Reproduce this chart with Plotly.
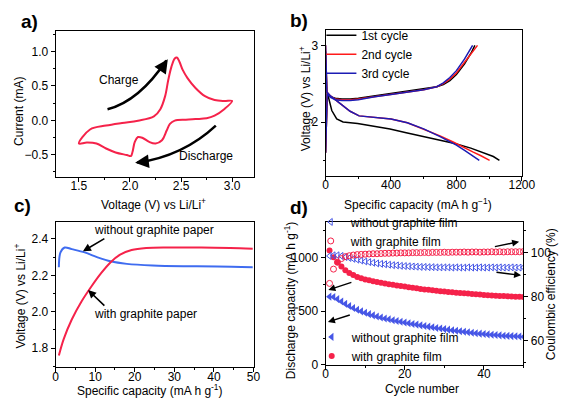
import plotly.graph_objects as go

# ---- a) cyclic voltammogram ----
cv_voltage = [1.500, 1.609, 1.766, 1.922, 2.078, 2.234, 2.297, 2.344, 2.375, 2.406, 2.438, 2.459,
              2.484, 2.516, 2.563, 2.641, 2.734, 2.828, 2.922, 3.000,
              2.922, 2.828, 2.750, 2.641, 2.547, 2.438, 2.391, 2.359, 2.313, 2.250, 2.188,
              2.125, 2.078, 2.047, 2.025, 2.009, 1.969, 1.859, 1.766, 1.672, 1.578, 1.500]
cv_current = [-0.338, -0.133, -0.076, -0.038, -0.005, 0.057, 0.162, 0.352, 0.590, 0.781, 0.900, 0.914,
              0.852, 0.733, 0.614, 0.471, 0.352, 0.295, 0.281, 0.281,
              0.162, 0.067, 0.029, 0.019, 0.010, -0.005, -0.052, -0.148, -0.290, -0.338, -0.314,
              -0.257, -0.243, -0.314, -0.457, -0.519, -0.505, -0.467, -0.410, -0.338, -0.324, -0.338]

# ---- b) charge / discharge profiles ----
c1_dis_cap = [0, 8, 18, 38, 68, 107, 196, 295, 394, 493, 592, 691, 790, 888, 967, 1026, 1063]
c1_dis_v = [2.92, 2.39, 2.32, 2.15, 2.04, 2.00, 1.98, 1.95, 1.91, 1.86, 1.81, 1.77, 1.72, 1.66, 1.60, 1.55, 1.50]
c1_chg_cap = [0, 5, 10, 30, 60, 100, 150, 200, 300, 400, 500, 600, 680, 720, 760, 800, 850, 890, 913]
c1_chg_v = [1.60, 2.20, 2.37, 2.33, 2.31, 2.30, 2.30, 2.31, 2.34, 2.37, 2.40, 2.43, 2.46, 2.49, 2.54, 2.62, 2.76, 2.90, 3.00]

c2_dis_cap = [0, 8, 30, 60, 100, 150, 205, 300, 400, 500, 600, 700, 780, 850, 900, 950, 1003]
c2_dis_v = [3.00, 2.39, 2.34, 2.29, 2.22, 2.14, 2.08, 2.065, 2.04, 1.99, 1.91, 1.82, 1.74, 1.66, 1.61, 1.56, 1.50]
c2_chg_cap = [0, 5, 10, 30, 60, 100, 150, 200, 300, 400, 500, 600, 680, 720, 760, 800, 850, 900, 929]
c2_chg_v = [1.60, 2.20, 2.37, 2.33, 2.30, 2.29, 2.29, 2.30, 2.33, 2.36, 2.39, 2.42, 2.46, 2.50, 2.56, 2.64, 2.78, 2.92, 3.00]

c3_dis_cap = [0, 8, 30, 60, 100, 150, 205, 300, 400, 500, 600, 700, 760, 800, 850, 900, 940]
c3_dis_v = [3.00, 2.39, 2.34, 2.29, 2.22, 2.14, 2.08, 2.065, 2.04, 1.99, 1.91, 1.81, 1.75, 1.70, 1.63, 1.56, 1.50]
c3_chg_cap = [0, 5, 10, 30, 60, 100, 150, 200, 300, 400, 500, 600, 680, 720, 760, 800, 849, 880, 899]
c3_chg_v = [1.60, 2.20, 2.37, 2.32, 2.29, 2.28, 2.28, 2.29, 2.33, 2.36, 2.39, 2.42, 2.46, 2.51, 2.58, 2.67, 2.82, 2.93, 3.00]

# ---- c) initial charge voltage ----
wo_paper_cap = [0.82, 1.23, 2.29, 4.08, 7.35, 10.6, 13.9, 18.0, 24.5, 32.7, 40.8, 49.8]
wo_paper_v = [2.245, 2.326, 2.353, 2.344, 2.326, 2.299, 2.277, 2.263, 2.254, 2.250, 2.249, 2.245]
w_paper_cap = [0.82, 2.04, 4.08, 6.54, 8.99, 11.4, 13.9, 16.3, 19.2, 22.9, 28.6, 36.8, 44.1, 49.8]
w_paper_v = [1.759, 1.849, 1.957, 2.056, 2.137, 2.209, 2.272, 2.314, 2.339, 2.350, 2.353, 2.353, 2.350, 2.346]

# ---- d) cycling ----
cycles = list(range(1, 51))
cap_wo_film = [635, 632, 612, 590, 568, 548, 530, 513, 498, 485,
               472, 461, 451, 441, 432, 424, 416, 408, 401, 395,
               388, 381, 375, 368, 362, 356, 350, 344, 338, 333,
               328, 323, 318, 313, 308, 304, 299, 295, 291, 287,
               284, 281, 278, 275, 272, 270, 268, 266, 264, 262]
cap_w_film = [1065, 1000, 955, 915, 880, 855, 835, 818, 805, 795,
              787, 779, 771, 764, 757, 751, 745, 739, 734, 729,
              722, 717, 712, 707, 702, 698, 694, 690, 686, 682,
              678, 675, 672, 669, 666, 663, 660, 657, 654, 651,
              648, 646, 644, 642, 640, 638, 636, 635, 633, 632]
ce_wo_film = [98.5, 98.8, 98.8, 98.5, 98.0, 97.6, 97.2, 96.8, 96.4, 96.0,
              95.7, 95.4, 95.1, 94.9, 94.7, 94.5, 94.3, 94.2, 94.0, 93.9,
              93.8, 93.7, 93.6, 93.5, 93.5, 93.4, 93.4, 93.3, 93.3, 93.3,
              93.3, 93.2, 93.3, 93.2, 93.2, 93.3, 93.2, 93.2, 93.3, 93.2,
              93.2, 93.3, 93.2, 93.3, 93.2, 93.2, 93.3, 93.2, 93.2, 93.3]
ce_w_film = [86.0, 92.5, 95.6, 97.3, 98.2, 98.6, 98.9, 99.1, 99.2, 99.3,
             99.4, 99.5, 99.5, 99.6, 99.7, 99.7, 99.8, 99.8, 99.9, 99.9,
             99.9, 100.0, 100.0, 100.0, 100.1, 100.0, 100.1, 100.1, 100.1, 100.2,
             100.1, 100.2, 100.2, 100.2, 100.3, 100.2, 100.3, 100.3, 100.2, 100.3,
             100.3, 100.4, 100.3, 100.4, 100.3, 100.4, 100.4, 100.4, 100.4, 100.5]

FONT = "Liberation Sans, Arial, sans-serif"
RED = "#F5224A"
BLUE_C = "#3F6CF0"
BLUE_D = "#4656E6"

W, H = 567, 399


def px(x):
    return x / W


def py(y):
    return 1 - y / H


def axis(dom, **kw):
    d = dict(domain=dom, showline=True, linecolor="black", linewidth=1, mirror=True,
             ticks="outside", ticklen=4, tickwidth=1, tickcolor="black",
             showgrid=False, zeroline=False, ticklabeloverflow="allow",
             tickfont=dict(size=12, color="black", family=FONT))
    d.update(kw)
    return d


def xaxis(dom, **kw):
    return axis(dom, ticklabelposition="outside", ticklabelstandoff=-6, **kw)


fig = go.Figure()

# a)
fig.add_trace(go.Scatter(x=cv_voltage, y=cv_current, mode="lines", line=dict(color=RED, width=2),
                         line_shape="spline", showlegend=False, xaxis="x", yaxis="y"))

# b)
for cap, v, col, name, show in [
    (c1_dis_cap, c1_dis_v, "black", "1st cycle", True),
    (c1_chg_cap, c1_chg_v, "black", "1st cycle", False),
    (c2_dis_cap, c2_dis_v, "#FF1A1A", "2nd cycle", True),
    (c2_chg_cap, c2_chg_v, "#FF1A1A", "2nd cycle", False),
    (c3_dis_cap, c3_dis_v, "#1C1CB4", "3rd cycle", True),
    (c3_chg_cap, c3_chg_v, "#1C1CB4", "3rd cycle", False),
]:
    fig.add_trace(go.Scatter(x=cap, y=v, mode="lines", line=dict(color=col, width=1.5),
                             name=name, showlegend=show, legend="legend",
                             xaxis="x2", yaxis="y2"))

# c)
fig.add_trace(go.Scatter(x=wo_paper_cap, y=wo_paper_v, mode="lines", line=dict(color=BLUE_C, width=2),
                         line_shape="spline", showlegend=False, xaxis="x3", yaxis="y3"))
fig.add_trace(go.Scatter(x=w_paper_cap, y=w_paper_v, mode="lines", line=dict(color=RED, width=2),
                         line_shape="spline", showlegend=False, xaxis="x3", yaxis="y3"))

# d)
fig.add_trace(go.Scatter(x=cycles, y=ce_wo_film, mode="markers", name="without graphite film",
                         marker=dict(symbol="triangle-left-open", size=6, color=BLUE_D, line=dict(width=1)),
                         legend="legend2", xaxis="x4", yaxis="y5"))
fig.add_trace(go.Scatter(x=cycles, y=ce_w_film, mode="markers", name="with graphite film",
                         marker=dict(symbol="circle-open", size=6, color=RED, line=dict(width=1)),
                         legend="legend2", xaxis="x4", yaxis="y5"))
fig.add_trace(go.Scatter(x=cycles, y=cap_wo_film, mode="markers", name="without graphite film",
                         marker=dict(symbol="triangle-left", size=7, color=BLUE_D),
                         legend="legend3", xaxis="x4", yaxis="y4"))
fig.add_trace(go.Scatter(x=cycles, y=cap_w_film, mode="markers", name="with graphite film",
                         marker=dict(symbol="circle", size=6, color=RED),
                         legend="legend3", xaxis="x4", yaxis="y4"))

ann = []


def label(text, x, y, size=12, angle=0, bold=False, xanchor="center", yanchor="middle"):
    ann.append(dict(text=f"<b>{text}</b>" if bold else text, x=px(x), y=py(y),
                    xref="paper", yref="paper", showarrow=False, textangle=angle,
                    xanchor=xanchor, yanchor=yanchor,
                    font=dict(size=size, color="black", family=FONT)))


# panel letters
label("a)", 8, 1, size=19, bold=True, xanchor="left", yanchor="top")
label("b)", 286, 0, size=19, bold=True, xanchor="left", yanchor="top")
label("c)", 1, 188, size=19, bold=True, xanchor="left", yanchor="top")
label("d)", 286, 190, size=19, bold=True, xanchor="left", yanchor="top")

# axis titles
label("Voltage (V) vs Li/Li<sup>+</sup>", 147, 199)
label("Current (mA)", 8, 105, angle=-90)
label("Specific capacity (mA h g<sup>\u22121</sup>)", 420, 199)
label("Voltage (V) vs Li/Li<sup>+</sup>", 303, 92, angle=-90)
label("Specific capacity (mA h g<sup>-1</sup>)", 143, 399, yanchor="bottom")
label("Voltage (V) vs Li/Li<sup>+</sup>", 9, 293, angle=-90)
label("Cycle number", 424, 388)
label("Discharge capacity (mA h g<sup>-1</sup>)", 287, 297, angle=-90)
label("Coulombic efficiency (%)", 557, 291, angle=-90)

# a) in-plot text and curved arrows
ann.append(dict(text="Charge", x=1.89, y=0.59, xref="x", yref="y", showarrow=False,
                font=dict(size=12, color="black", family=FONT)))
ann.append(dict(text="Discharge", x=2.74, y=-0.52, xref="x", yref="y", showarrow=False,
                font=dict(size=12, color="black", family=FONT)))
ann.append(dict(x=2.37, y=0.89, xref="x", yref="y", ax=-6, ay=9, text="", showarrow=True,
                arrowhead=2, arrowsize=1.1, arrowwidth=2.5, arrowcolor="black"))
ann.append(dict(x=2.05, y=-0.617, xref="x", yref="y", ax=9, ay=-1, text="", showarrow=True,
                arrowhead=2, arrowsize=1.1, arrowwidth=2.5, arrowcolor="black"))

# c) arrows
for tx, ty, hx, hy, txt, lx, ly in [
    (12.7, 2.407, 6.9, 2.332, "without graphite paper", 24.8, 2.447),
    (12.7, 2.025, 8.2, 2.119, "with graphite paper", 22.6, 1.987),
]:
    ann.append(dict(x=hx, y=hy, ax=tx, ay=ty, xref="x3", yref="y3", axref="x3", ayref="y3",
                    text="", showarrow=True, arrowhead=2, arrowsize=1, arrowwidth=1.6, arrowcolor="black"))
    ann.append(dict(text=txt, x=lx, y=ly, xref="x3", yref="y3", showarrow=False,
                    font=dict(size=12, color="black", family=FONT)))

# d) arrows (left capacity axis coords)
for tx, ty, hx, hy in [(42.4, 1097, 48.9, 1146), (42.8, 863, 49.4, 833),
                       (6.9, 772, 0.7, 697), (6.5, 469, 0.6, 399)]:
    ann.append(dict(x=hx, y=hy, ax=tx, ay=ty, xref="x4", yref="y4", axref="x4", ayref="y4",
                    text="", showarrow=True, arrowhead=2, arrowsize=1, arrowwidth=1.4, arrowcolor="black"))

shapes = [
    dict(type="path", xref="x", yref="y", path="M 1.78,0.16 Q 2.09,0.28 2.355,0.87",
         line=dict(color="black", width=2.5)),
    dict(type="path", xref="x", yref="y", path="M 2.84,-0.076 Q 2.52,-0.52 2.07,-0.615",
         line=dict(color="black", width=2.5)),
]

leg_font = dict(size=12, color="black", family=FONT)

fig.update_layout(
    width=W, height=H, margin=dict(l=0, r=0, t=0, b=0),
    paper_bgcolor="white", plot_bgcolor="white",
    font=dict(family=FONT, size=12, color="black"),
    xaxis=xaxis([px(46), px(250)], anchor="y", range=[1.272, 3.209], tickvals=[1.5, 2.0, 2.5, 3.0],
                tickformat=".1f", minor=dict(dtick=0.25, ticks="outside", ticklen=2, tickcolor="black")),
    yaxis=axis([py(172), py(23)], anchor="x", range=[-0.824, 1.305], tickvals=[-0.5, 0.0, 0.5, 1.0],
               tickformat=".1f", minor=dict(dtick=0.25, ticks="outside", ticklen=2, tickcolor="black")),
    xaxis2=xaxis([px(324.3), px(526.7)], anchor="y2", range=[0, 1200.5], tick0=0, dtick=400,
                 minor=dict(dtick=200, ticks="outside", ticklen=2, tickcolor="black")),
    yaxis2=axis([py(170.7), py(22.7)], anchor="x2", range=[1.30, 3.196], tickvals=[2, 3],
                minor=dict(dtick=0.5, ticks="outside", ticklen=2, tickcolor="black")),
    xaxis3=xaxis([px(46), px(250)], anchor="y3", range=[0, 50], dtick=10,
                 minor=dict(dtick=5, ticks="outside", ticklen=2, tickcolor="black")),
    yaxis3=axis([py(365.7), py(217.7)], anchor="x3", range=[1.694, 2.494], tickvals=[1.8, 2.0, 2.2, 2.4],
                tickformat=".1f", minor=dict(dtick=0.1, ticks="outside", ticklen=2, tickcolor="black")),
    xaxis4=xaxis([px(324.3), px(528.3)], anchor="y4", range=[0, 50], tickvals=[0, 20, 40],
                 minor=dict(dtick=10, ticks="outside", ticklen=2, tickcolor="black")),
    yaxis4=axis([py(363.3), py(217.7)], anchor="x4", range=[0, 1330], tickvals=[0, 500, 1000],
                minor=dict(dtick=250, ticks="outside", ticklen=2, tickcolor="black")),
    yaxis5=axis([py(363.3), py(217.7)], anchor="x4", overlaying="y4", side="right", mirror=False,
                range=[48.9, 114], tickvals=[60, 80, 100],
                minor=dict(dtick=10, ticks="outside", ticklen=2, tickcolor="black")),
    legend=dict(x=px(320), y=py(13), xanchor="left", yanchor="top", bgcolor="rgba(0,0,0,0)",
                font=leg_font, itemwidth=30),
    legend2=dict(x=px(309), y=py(203), xanchor="left", yanchor="top", bgcolor="rgba(0,0,0,0)",
                 font=leg_font, itemwidth=30),
    legend3=dict(x=px(310), y=py(320), xanchor="left", yanchor="top", bgcolor="rgba(0,0,0,0)",
                 font=leg_font, itemwidth=30),
    annotations=ann,
    shapes=shapes,
)

fig.write_html("out.html")
